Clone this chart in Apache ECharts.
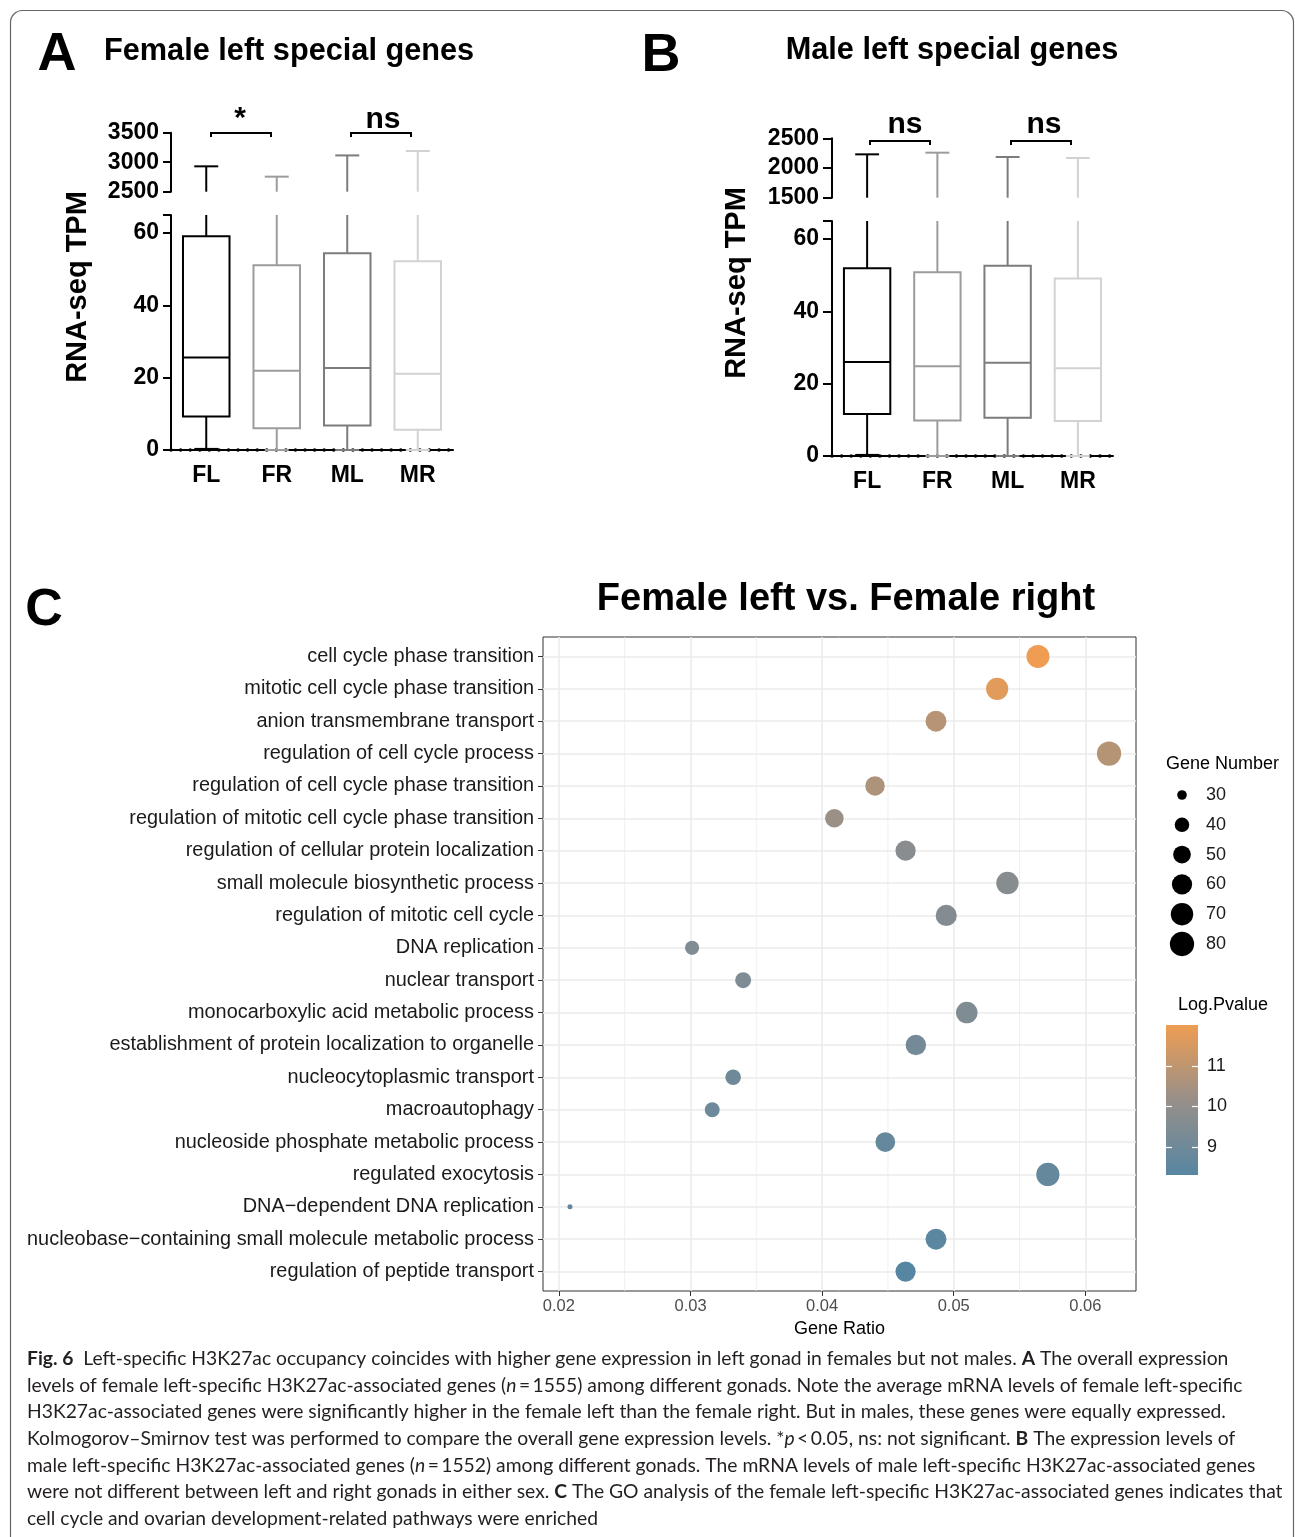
<!DOCTYPE html>
<html><head><meta charset="utf-8">
<script src="https://cdn.jsdelivr.net/npm/echarts@6/dist/echarts.min.js"></script>
<style>html,body{margin:0;padding:0;background:#fff}#c{width:1295px;height:1537px}</style>
</head><body><div id="c"></div>
<script>
// ---------------- DATA ----------------
const groups = ['FL', 'FR', 'ML', 'MR'];
// Panel A: female left-specific genes (RNA-seq TPM box summaries)
const femaleMin    = [0.3, 0, 0, 0];
const femaleQ1     = [9.3, 6.0, 6.8, 5.6];
const femaleMedian = [25.6, 21.9, 22.7, 21.1];
const femaleQ3     = [59.1, 51.1, 54.4, 52.2];
const femaleMax    = [2930, 2755, 3115, 3190];
// Panel B: male left-specific genes
const maleMin    = [0.3, 0, 0, 0];
const maleQ1     = [11.6, 9.8, 10.6, 9.7];
const maleMedian = [26.0, 24.8, 25.8, 24.3];
const maleQ3     = [51.9, 50.8, 52.6, 49.1];
const maleMax    = [2230, 2258, 2185, 2168];
const lowerTickLabels = [0, 20, 40, 60];
const lowerTicks = [0, 20, 40, 60, 65];

// Panel C: GO enrichment
const goTerms = [
  'cell cycle phase transition',
  'mitotic cell cycle phase transition',
  'anion transmembrane transport',
  'regulation of cell cycle process',
  'regulation of cell cycle phase transition',
  'regulation of mitotic cell cycle phase transition',
  'regulation of cellular protein localization',
  'small molecule biosynthetic process',
  'regulation of mitotic cell cycle',
  'DNA replication',
  'nuclear transport',
  'monocarboxylic acid metabolic process',
  'establishment of protein localization to organelle',
  'nucleocytoplasmic transport',
  'macroautophagy',
  'nucleoside phosphate metabolic process',
  'regulated exocytosis',
  'DNA\u2212dependent DNA replication',
  'nucleobase\u2212containing small molecule metabolic process',
  'regulation of peptide transport'
];
const geneRatio  = [0.0564, 0.0533, 0.04865, 0.0618, 0.04402, 0.04093, 0.04634, 0.05408, 0.04943, 0.03012,
                    0.0340, 0.05099, 0.04712, 0.03324, 0.03165, 0.0448, 0.05715, 0.02084, 0.04865, 0.04634];
const geneNumber = [73, 69, 63, 80, 57, 53, 60, 70, 64, 39, 44, 66, 61, 43, 41, 58, 74, 27, 63, 60];
const logPvalue  = [12.02, 11.75, 10.85, 10.8, 10.65, 10.25, 9.75, 9.7, 9.6, 9.5,
                    9.45, 9.45, 9.15, 9.0, 8.95, 8.75, 8.7, 8.55, 8.45, 8.30];
const geneRatioTicks = [0.02, 0.03, 0.04, 0.05, 0.06];
const geneRatioMinorTicks = [0.025, 0.035, 0.045, 0.055];
const sizeLegendValues = [30, 40, 50, 60, 70, 80];
const logPTicks = [9, 10, 11];

// ---------------- STYLE ----------------
const groupColors = ['#000000', '#9c9c9c', '#7c7c7c', '#d2d2d2'];
const colorRamp = ['#5786a3', '#978f89', '#ee9d52'];
const FONT = 'Liberation Sans';

const nMin = Math.min(...geneNumber), nMax = Math.max(...geneNumber);
const sizeOf = v => 5 + 19.3 * Math.sqrt(Math.max(0, (v - nMin) / (nMax - nMin)));
const rMin = Math.min(...geneRatio), rMax = Math.max(...geneRatio);
const xPad = (rMax - rMin) * 0.05;
const logMin = Math.min(...logPvalue), logMax = Math.max(...logPvalue);

function boxRender(params, api) {
  const cs = params.coordSys;
  const top = cs.y, bottom = cs.y + cs.height;
  const idx = api.value(0);
  const v = [1, 2, 3, 4, 5].map(k => api.value(k));
  const cx = api.coord([idx, v[2]])[0];
  const band = api.size([1, 0])[0];
  const hw = band * 0.33, capHw = band * 0.17;
  const py = val => api.coord([idx, val])[1];
  const cl = y => Math.min(bottom, Math.max(top, y));
  const st = { stroke: groupColors[idx], lineWidth: 2, fill: null };
  const kids = [];
  const vseg = (a, b) => {
    const y1 = cl(py(a)), y2 = cl(py(b));
    if (Math.abs(y1 - y2) > 0.5) kids.push({ type: 'line', shape: { x1: cx, y1: y1, x2: cx, y2: y2 }, style: st });
  };
  const hseg = (val, h) => {
    const y = py(val);
    if (y >= top - 0.5 && y <= bottom + 0.5) kids.push({ type: 'line', shape: { x1: cx - h, y1: y, x2: cx + h, y2: y }, style: st });
  };
  vseg(v[3], v[4]);
  vseg(v[0], v[1]);
  const yq1 = cl(py(v[1])), yq3 = cl(py(v[3]));
  if (yq1 - yq3 > 0.5) kids.push({ type: 'rect', shape: { x: cx - hw, y: yq3, width: 2 * hw, height: yq1 - yq3 }, style: st });
  hseg(v[2], hw);
  hseg(v[4], capHw);
  hseg(v[0], capHw);
  return { type: 'group', children: kids };
}

const boxData = (mn, q1, md, q3, mx) => groups.map((g, i) => [i, mn[i], q1[i], md[i], q3[i], mx[i]]);
const femaleBoxes = boxData(femaleMin, femaleQ1, femaleMedian, femaleQ3, femaleMax);
const maleBoxes = boxData(maleMin, maleQ1, maleMedian, maleQ3, maleMax);

const boldLabel = { color: '#000', fontSize: 23, fontWeight: 'bold', fontFamily: FONT };
const blackLine = { color: '#000', width: 2 };

function hiddenCatX(grid) {
  return { type: 'category', gridIndex: grid, data: groups, show: false, axisLine: { onZero: false } };
}
function mainCatX(grid) {
  return {
    type: 'category', gridIndex: grid, data: groups, position: 'bottom',
    axisLine: { onZero: false, lineStyle: blackLine },
    axisTick: { alignWithLabel: true, length: 8, lineStyle: blackLine },
    axisLabel: Object.assign({ margin: 14 }, boldLabel),
    splitLine: { show: false }
  };
}
function dotCatX(grid) {
  return {
    type: 'category', gridIndex: grid, data: groups, position: 'bottom',
    axisLine: { onZero: false, lineStyle: { color: '#000', width: 3.5, type: [0.1, 9.47], cap: 'round' } },
    axisTick: { show: false }, axisLabel: { show: false }, splitLine: { show: false }
  };
}
function boxY(grid, min, max, interval, margin, tickLen, labelVals, tickVals) {
  const ax = {
    type: 'value', gridIndex: grid, min: min, max: max,
    axisLine: { show: true, onZero: false, lineStyle: blackLine },
    axisTick: { show: true, length: tickLen, lineStyle: blackLine },
    axisLabel: Object.assign({ margin: margin, formatter: v => String(v) }, boldLabel),
    splitLine: { show: false }
  };
  if (interval) ax.interval = interval;
  if (labelVals) { ax.axisLabel.customValues = labelVals; ax.axisTick.customValues = tickVals; }
  return ax;
}

const captionLines = [
  '{b|Fig. 6}  Left-specific H3K27ac occupancy coincides with higher gene expression in left gonad in females but not males. {b|A} The overall expression',
  'levels of female left-specific H3K27ac-associated genes ({i|n}\u2009=\u20091555) among different gonads. Note the average mRNA levels of female left-specific',
  'H3K27ac-associated genes were significantly higher in the female left than the female right. But in males, these genes were equally expressed.',
  'Kolmogorov\u2013Smirnov test was performed to compare the overall gene expression levels. *{i|p}\u2009<\u20090.05, ns: not significant. {b|B} The expression levels of',
  'male left-specific H3K27ac-associated genes ({i|n}\u2009=\u20091552) among different gonads. The mRNA levels of male left-specific H3K27ac-associated genes',
  'were not different between left and right gonads in either sex. {b|C} The GO analysis of the female left-specific H3K27ac-associated genes indicates that',
  'cell cycle and ovarian development-related pathways were enriched'
];
const CAP_FS = 19.3, CAP_FONT = 'Lato';
const captionEls = captionLines.map((t, k) => ({
  type: 'text', x: 27, y: 1359 + k * 26.6,
  style: {
    text: t, fill: '#231f20', fontSize: CAP_FS, fontFamily: CAP_FONT, verticalAlign: 'middle', align: 'left',
    rich: {
      b: { fontSize: CAP_FS, fontFamily: CAP_FONT, fontWeight: 'bold', fill: '#231f20' },
      i: { fontSize: CAP_FS, fontFamily: CAP_FONT, fontStyle: 'italic', fill: '#231f20' }
    }
  }
}));

function txt(x, y, text, size, opts) {
  return {
    type: 'text', x: x, y: y, rotation: (opts && opts.rot) || 0,
    style: Object.assign({ text: text, fontSize: size, fontFamily: FONT, fontWeight: 'bold', fill: '#000',
      align: 'center', verticalAlign: 'middle' }, (opts && opts.style) || {})
  };
}
function bracket(x1, x2, y) {
  return { type: 'polyline', shape: { points: [[x1, y + 4], [x1, y], [x2, y], [x2, y + 4]] },
    style: { stroke: '#000', lineWidth: 2, fill: null } };
}

const option = {
  animation: false,
  backgroundColor: '#fff',
  textStyle: { fontFamily: FONT },
  grid: [
    { left: 171, top: 132.7, width: 282, height: 59 },     // 0 A upper
    { left: 171, top: 215, width: 282, height: 235 },      // 1 A lower
    { left: 832, top: 138.3, width: 281, height: 59.4 },   // 2 B upper
    { left: 832, top: 221, width: 281, height: 235 },      // 3 B lower
    { left: 543, top: 637, width: 593, height: 654, show: true, borderColor: '#333', borderWidth: 1, backgroundColor: 'rgba(0,0,0,0)' }, // 4 C
    { left: 1166, top: 1025, width: 32, height: 150 },     // 5 colorbar
    { left: 1172, top: 780.1, width: 20, height: 178.8 }   // 6 size legend
  ],
  xAxis: [
    hiddenCatX(0),
    mainCatX(1),
    dotCatX(1),
    hiddenCatX(2),
    mainCatX(3),
    dotCatX(3),
    {
      type: 'value', gridIndex: 4, min: rMin - xPad, max: rMax + xPad,
      axisLine: { show: false, onZero: false },
      axisTick: { show: true, customValues: geneRatioTicks, length: 5, lineStyle: { color: '#333', width: 1 } },
      axisLabel: { customValues: geneRatioTicks, formatter: v => v.toFixed(2), color: '#4d4d4d', fontSize: 16.5, margin: 7 },
      splitLine: { show: true, lineStyle: { color: '#ebebeb', width: 1.5 } },
      name: 'Gene Ratio', nameLocation: 'middle', nameGap: 29,
      nameTextStyle: { fontSize: 18, color: '#000' }
    },
    { type: 'value', gridIndex: 5, min: 0, max: 1, show: false, axisLine: { onZero: false } },
    { type: 'value', gridIndex: 6, min: 0, max: 2, show: false, axisLine: { onZero: false } }
  ],
  yAxis: [
    boxY(0, 2500, 3500, 500, 12, 8),
    boxY(1, 0, 65, null, 12, 8, lowerTickLabels, lowerTicks),
    boxY(2, 1500, 2500, 500, 13, 9),
    boxY(3, 0, 65, null, 13, 9, lowerTickLabels, lowerTicks),
    {
      type: 'value', gridIndex: 4, inverse: true, min: -0.6, max: goTerms.length - 0.4,
      axisLine: { show: false, onZero: false },
      axisTick: { show: true, customValues: goTerms.map((t, i) => i), length: 5, lineStyle: { color: '#333', width: 1 } },
      axisLabel: { customValues: goTerms.map((t, i) => i), formatter: v => goTerms[Math.round(v)], color: '#1a1a1a', fontSize: 19.9, margin: 9 },
      splitLine: { show: true, lineStyle: { color: '#ebebeb', width: 1.5 } }
    },
    {
      type: 'value', gridIndex: 5, min: logMin, max: logMax, position: 'right', z: 10,
      axisLine: { show: false, onZero: false },
      axisTick: { show: true, inside: true, length: 6, customValues: logPTicks, lineStyle: { color: '#fff', width: 1.2 } },
      axisLabel: { customValues: logPTicks, color: '#1a1a1a', fontSize: 18, margin: 9 },
      splitLine: { show: false }
    },
    {
      type: 'value', gridIndex: 5, min: logMin, max: logMax, position: 'left', z: 10,
      axisLine: { show: false, onZero: false },
      axisTick: { show: true, inside: true, length: 6, customValues: logPTicks, lineStyle: { color: '#fff', width: 1.2 } },
      axisLabel: { show: false },
      splitLine: { show: false }
    },
    {
      type: 'category', gridIndex: 6, data: sizeLegendValues.map(String), inverse: true, position: 'right',
      axisLine: { show: false, onZero: false }, axisTick: { show: false },
      axisLabel: { color: '#1a1a1a', fontSize: 18, margin: 14 }, splitLine: { show: false }
    }
  ],
  visualMap: [{
    type: 'continuous', show: false, seriesIndex: 5, dimension: 2,
    min: logMin, max: logMax, inRange: { color: colorRamp }
  }],
  series: [
    { type: 'custom', xAxisIndex: 0, yAxisIndex: 0, renderItem: boxRender, data: femaleBoxes, encode: { x: 0, y: 1 }, z: 3 },
    { type: 'custom', xAxisIndex: 1, yAxisIndex: 1, renderItem: boxRender, data: femaleBoxes, encode: { x: 0, y: 1 }, z: 3 },
    { type: 'custom', xAxisIndex: 3, yAxisIndex: 2, renderItem: boxRender, data: maleBoxes, encode: { x: 0, y: 1 }, z: 3 },
    { type: 'custom', xAxisIndex: 4, yAxisIndex: 3, renderItem: boxRender, data: maleBoxes, encode: { x: 0, y: 1 }, z: 3 },
    {
      type: 'custom', xAxisIndex: 6, yAxisIndex: 4, z: 1,
      data: geneRatioMinorTicks.map(v => [v, 0]), encode: { x: 0, y: 1 },
      renderItem: (params, api) => {
        const cs = params.coordSys;
        const x = api.coord([api.value(0), 0])[0];
        return { type: 'line', shape: { x1: x, y1: cs.y, x2: x, y2: cs.y + cs.height }, style: { stroke: '#ebebeb', lineWidth: 0.8 } };
      }
    },
    {
      type: 'scatter', xAxisIndex: 6, yAxisIndex: 4, z: 4,
      data: goTerms.map((t, i) => [geneRatio[i], i, logPvalue[i], geneNumber[i]]),
      encode: { x: 0, y: 1 },
      symbolSize: v => sizeOf(v[3]),
      itemStyle: { opacity: 1 }
    },
    {
      type: 'custom', xAxisIndex: 7, yAxisIndex: 5, z: 2,
      data: [[0, logMin]], encode: { x: 0, y: 1 },
      renderItem: (params, api) => {
        const p0 = api.coord([0, logMin]), p1 = api.coord([1, logMax]);
        return {
          type: 'rect', shape: { x: p0[0], y: p1[1], width: p1[0] - p0[0], height: p0[1] - p1[1] },
          style: { fill: new echarts.graphic.LinearGradient(0, 1, 0, 0,
            colorRamp.map((c, k) => ({ offset: k / (colorRamp.length - 1), color: c }))) }
        };
      }
    },
    {
      type: 'scatter', xAxisIndex: 8, yAxisIndex: 7, z: 4,
      data: sizeLegendValues.map((v, i) => [1, i, v]), encode: { x: 0, y: 1 },
      symbolSize: v => sizeOf(v[2]), itemStyle: { color: '#000', opacity: 1 }
    }
  ],
  graphic: { elements: [
    { type: 'rect', shape: { x: 10.5, y: 10.5, width: 1283, height: 1560, r: 12 }, style: { fill: null, stroke: '#666', lineWidth: 1.2 }, z: -1 },
    txt(57, 55, 'A', 54),
    txt(104, 52, 'Female left special genes', 30.7, { style: { align: 'left' } }),
    txt(661, 56, 'B', 54),
    txt(952, 51, 'Male left special genes', 30.7),
    txt(44, 611, 'C', 52),
    txt(846, 600, 'Female left vs. Female right', 38),
    txt(78, 287, 'RNA-seq TPM', 29, { rot: Math.PI / 2 }),
    txt(737, 283, 'RNA-seq TPM', 29, { rot: Math.PI / 2 }),
    bracket(211, 271, 133), bracket(351, 411, 133),
    bracket(870, 930, 141), bracket(1011, 1071, 141),
    txt(240, 119, '*', 30),
    txt(383, 120, 'ns', 30),
    txt(905, 125, 'ns', 30),
    txt(1044, 125, 'ns', 30),
    { type: 'text', x: 1166, y: 764, style: { text: 'Gene Number', fontSize: 18, fontFamily: FONT, fill: '#000', align: 'left', verticalAlign: 'middle' } },
    { type: 'text', x: 1178, y: 1005, style: { text: 'Log.Pvalue', fontSize: 18, fontFamily: FONT, fill: '#000', align: 'left', verticalAlign: 'middle' } }
  ].concat(captionEls) }
};

const chart = echarts.init(document.getElementById('c'), null, { renderer: 'canvas', width: 1295, height: 1537 });
chart.setOption(option);
</script>
</body></html>
